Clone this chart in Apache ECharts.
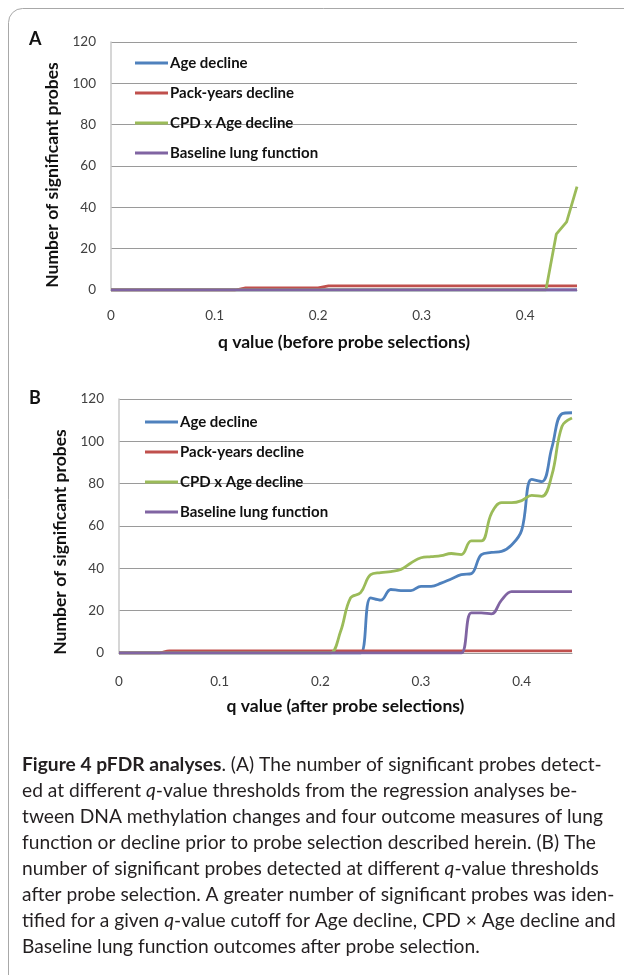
<!DOCTYPE html>
<html><head><meta charset="utf-8">
<script src="https://cdn.jsdelivr.net/npm/echarts@6/dist/echarts.min.js"></script>
<style>html,body{margin:0;padding:0;background:#fff}#c{width:624px;height:975px}</style>
</head><body><div id="c"></div>
<script>
// ---- data ----
const qValues = [0,0.01,0.02,0.03,0.04,0.05,0.06,0.07,0.08,0.09,
  0.10,0.11,0.12,0.13,0.14,0.15,0.16,0.17,0.18,0.19,
  0.20,0.21,0.22,0.23,0.24,0.25,0.26,0.27,0.28,0.29,
  0.30,0.31,0.32,0.33,0.34,0.35,0.36,0.37,0.38,0.39,
  0.40,0.41,0.42,0.43,0.44,0.45];
const seriesNames = ['Age decline','Pack-years decline','CPD x Age decline','Baseline lung function'];
const yTicks = [0,20,40,60,80,100,120];
const xTickLabels = ['0','0.1','0.2','0.3','0.4'];

// Panel A (before probe selections)
const ageA  = [0,0,0,0,0,0,0,0,0,0, 0,0,0,0,0,0,0,0,0,0, 0,0,0,0,0,0,0,0,0,0, 0,0,0,0,0,0,0,0,0,0, 0,0,0,0,0,0];
const packA = [0,0,0,0,0,0,0,0,0,0, 0,0,0,1,1,1,1,1,1,1, 1,2,2,2,2,2,2,2,2,2, 2,2,2,2,2,2,2,2,2,2, 2,2,2,2,2,2];
const cpdA  = [0,0,0,0,0,0,0,0,0,0, 0,0,0,0,0,0,0,0,0,0, 0,0,0,0,0,0,0,0,0,0, 0,0,0,0,0,0,0,0,0,0, 0,0,0,27,33,50];
const baseA = [0,0,0,0,0,0,0,0,0,0, 0,0,0,0,0,0,0,0,0,0, 0,0,0,0,0,0,0,0,0,0, 0,0,0,0,0,0,0,0,0,0, 0,0,0,0,0,0];

// Panel B (after probe selections)
const ageB  = [0,0,0,0,0,0,0,0,0,0, 0,0,0,0,0,0,0,0,0,0, 0,0,0,0,0,26,25,30,29.5,29.5,
  31.5,31.5,33,35,37,37.5,46.5,47.5,48,51, 58,82,81,97,113,113.5];
const packB = [0,0,0,0,0,1,1,1,1,1, 1,1,1,1,1,1,1,1,1,1, 1,1,1,1,1,1,1,1,1,1, 1,1,1,1,1,1,1,1,1,1, 1,1,1,1,1,1];
const cpdB  = [0,0,0,0,0,0,0,0,0,0, 0,0,0,0,0,0,0,0,0,0, 0,0,10,26,28.5,37,38,38.5,39.5,42.5,
  45,45.5,46,47,46.5,53,53,66,71,71, 72,74.5,74,84,107,111];
const baseB = [0,0,0,0,0,0,0,0,0,0, 0,0,0,0,0,0,0,0,0,0, 0,0,0,0,0,0,0,0,0,0, 0,0,0,0,0,19,19,18.5,25,29, 29,29,29,29,29,29];

const colors = ['#4F81BD','#C0504D','#9BBB59','#8064A2'];
const FONT = 'Lato';

function pairs(arr){ return qValues.map((q,i)=>[q, arr[i]]); }

function mkX(idx, name, gap){
  return {
    type:'value', gridIndex:idx, min:0, max:0.45, interval:0.1,
    name:name, nameLocation:'middle', nameGap:gap,
    nameTextStyle:{fontFamily:FONT, fontWeight:'bold', fontSize:17.5, color:'#111'},
    axisLine:{show:true, lineStyle:{color:'#999', width:1}},
    axisTick:{show:false},
    axisLabel:{fontFamily:FONT, fontSize:13.5, color:'#404040', margin:idx===0?19:22, showMaxLabel:false,
      formatter:(v)=>{ const k=Math.round(v*10); return k<xTickLabels.length? xTickLabels[k] : ''; }},
    splitLine:{show:false}
  };
}
function mkY(idx, gap, pad){
  return {
    type:'value', gridIndex:idx, min:yTicks[0], max:yTicks[yTicks.length-1], interval:20,
    name:'Number of significant probes', nameLocation:'middle', nameGap:gap,
    nameTextStyle:{fontFamily:FONT, fontWeight:'bold', fontSize:17.5, color:'#111', padding:pad},
    axisLine:{show:true, lineStyle:{color:'#c8c8c8', width:1.5}},
    axisTick:{show:false},
    axisLabel:{fontFamily:FONT, fontSize:13.5, color:'#404040', margin:15},
    splitLine:{show:true, lineStyle:{color:'#9a9a9a', width:1}}
  };
}
function mkSeries(idx, arrs, smooth){
  return arrs.map((a,k)=>({
    name:seriesNames[k], type:'line', xAxisIndex:idx, yAxisIndex:idx,
    data:pairs(a), showSymbol:false, smooth:smooth,
    lineStyle:{color:colors[k], width:2.8}, itemStyle:{color:colors[k]},
    emphasis:{disabled:true}, animation:false
  }));
}
function mkLegend(left, top){
  return {
    orient:'vertical', left:left, top:top, icon:'rect', itemWidth:33, itemHeight:3,
    itemGap:14, selectedMode:false,
    textStyle:{fontFamily:FONT, fontWeight:'bold', fontSize:15, color:'#111', lineHeight:16, padding:[0,0,0,-3]},
    data:seriesNames
  };
}

const captionLines = [
  '{b|Figure 4 pFDR analyses}. (A) The number of significant probes detect-',
  'ed at different {i|q}-value thresholds from the regression analyses be-',
  'tween DNA methylation changes and four outcome measures of lung',
  'function or decline prior to probe selection described herein. (B) The',
  'number of significant probes detected at different {i|q}-value thresholds',
  'after probe selection. A greater number of significant probes was iden-',
  'tified for a given {i|q}-value cutoff for Age decline, CPD \u00d7 Age decline and',
  'Baseline lung function outcomes after probe selection.'
];
const capFont = 19.2;
const graphics = [
  {type:'rect', shape:{x:8.5,y:8.5,width:800,height:1200,r:14}, style:{fill:'none', stroke:'#a8a8a8', lineWidth:1}, silent:true},
  {type:'text', left:29, top:30, style:{text:'A', font:'bold 18px '+FONT, fill:'#111'}},
  {type:'text', left:29, top:389, style:{text:'B', font:'bold 18px '+FONT, fill:'#111'}}
];
captionLines.forEach((t,i)=>{
  graphics.push({type:'text', x:22, y:765 + i*26, style:{
    text:t, fontFamily:FONT, fontSize:capFont, fill:'#231f20', verticalAlign:'middle', align:'left',
    rich:{
      b:{fontFamily:FONT, fontSize:capFont, fontWeight:'bold', fill:'#231f20'},
      i:{fontFamily:FONT, fontSize:capFont, fontStyle:'italic', fill:'#231f20'}
    }
  }});
});

const chart = echarts.init(document.getElementById('c'), null, {renderer:'canvas'});
chart.setOption({
  animation:false,
  backgroundColor:'#fff',
  grid:[
    {left:111, top:42, width:466, height:248},
    {left:119, top:399, width:453, height:254}
  ],
  xAxis:[ mkX(0,'q value (before probe selections)',43), mkX(1,'q value (after probe selections)',44) ],
  yAxis:[ mkY(0,42,[0,18,0,0]), mkY(1,47,[0,32,0,0]) ],
  legend:[ mkLegend(130,50), mkLegend(140,409) ],
  series:[].concat(
    mkSeries(0,[ageA,packA,cpdA,baseA],false),
    mkSeries(1,[ageB,packB,cpdB,baseB],0.4)
  ),
  graphic:graphics
});
</script>
</body></html>
